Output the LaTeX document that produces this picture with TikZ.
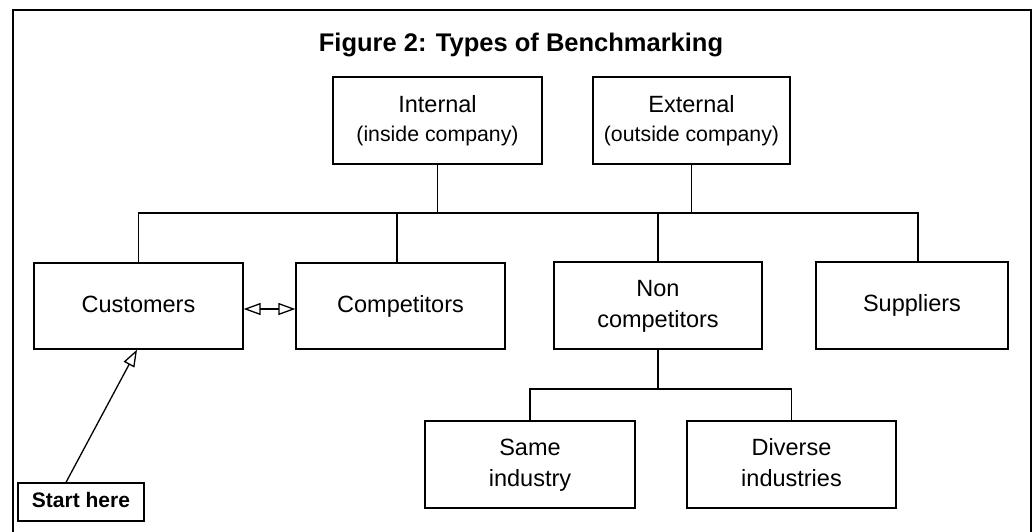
\documentclass[tikz,border=0pt]{standalone}
\usepackage{fontspec}
\setmainfont{Liberation Sans}
\usetikzlibrary{arrows.meta}
\tikzset{Hollow/.tip={Triangle[open, length=17pt, width=12pt]}}
\begin{document}
\begin{tikzpicture}[x=1pt,y=-1pt,
  box/.style={draw, line width=1.3pt, inner sep=0pt, align=center,
    font=\fontsize{23.5}{31}\selectfont},
  link/.style={line width=1.3pt}]
\useasboundingbox (0,0) rectangle (1033,531);
% outer frame, open below the page edge
\draw[line width=2.5pt] (13,545) -- (13,10) -- (1031,10) -- (1031,545);
\node[font=\bfseries\fontsize{25.5}{30}\selectfont] (title) at (521,45) {Figure 2: Types of Benchmarking};

% top level
\node[box, minimum width=209pt, minimum height=87pt] (int) at (437.5,120.5)
  {\strut Internal\\[-2pt]{\fontsize{21.3}{28}\selectfont\strut (inside company)}};
\node[box, minimum width=197pt, minimum height=87pt] (ext) at (691.5,120.5)
  {\strut External\\[-2pt]{\fontsize{21.3}{28}\selectfont\strut (outside company)}};

% second level
\node[box, minimum width=209pt, minimum height=86pt] (cust) at (138.5,306) {\strut Customers};
\node[box, minimum width=209pt, minimum height=86pt] (comp) at (400.5,306) {\strut Competitors};
\node[box, minimum width=208pt, minimum height=87pt] (nonc) at (658,305.5) {\strut Non\\\strut competitors};
\node[box, minimum width=192pt, minimum height=87pt] (sup) at (912,305.5) {\strut Suppliers};

% third level
\node[box, minimum width=210pt, minimum height=87pt] (same) at (530,464.5) {\strut Same\\\strut industry};
\node[box, minimum width=209pt, minimum height=87pt] (div) at (791.5,464.5) {\strut Diverse\\\strut industries};

% starting point
\node[box, minimum width=126pt, minimum height=38pt, font=\bfseries\fontsize{21}{25}\selectfont]
  (start) at (81,502) {\strut Start here};

% distribution bar
\coordinate (bar) at (0,213);
\coordinate (low) at (0,389);
\draw[link] (int.south) -- (int.south |- bar);
\draw[link] (ext.south) -- (ext.south |- bar);
\draw[link] (cust.north) -- (cust.north |- bar) -- ([xshift=6pt]sup.north |- bar) -- ([xshift=6pt]sup.north);
\draw[link] ([xshift=-3.5pt]comp.north) -- ([xshift=-3.5pt]comp.north |- bar);
\draw[link] (nonc.north) -- (nonc.north |- bar);

% non competitors split
\draw[link] (nonc.south) -- (nonc.south |- low);
\draw[link] (same.north) -- (same.north |- low) -- (div.north |- low) -- (div.north);

% arrows
\draw[link, Hollow-Hollow]
  ([yshift=-3pt]cust.east) -- ([yshift=-3pt]comp.west);
\draw[link, -Hollow] ([xshift=-15pt]start.north) -- ([xshift=-1.5pt]cust.south);
\end{tikzpicture}
\end{document}
